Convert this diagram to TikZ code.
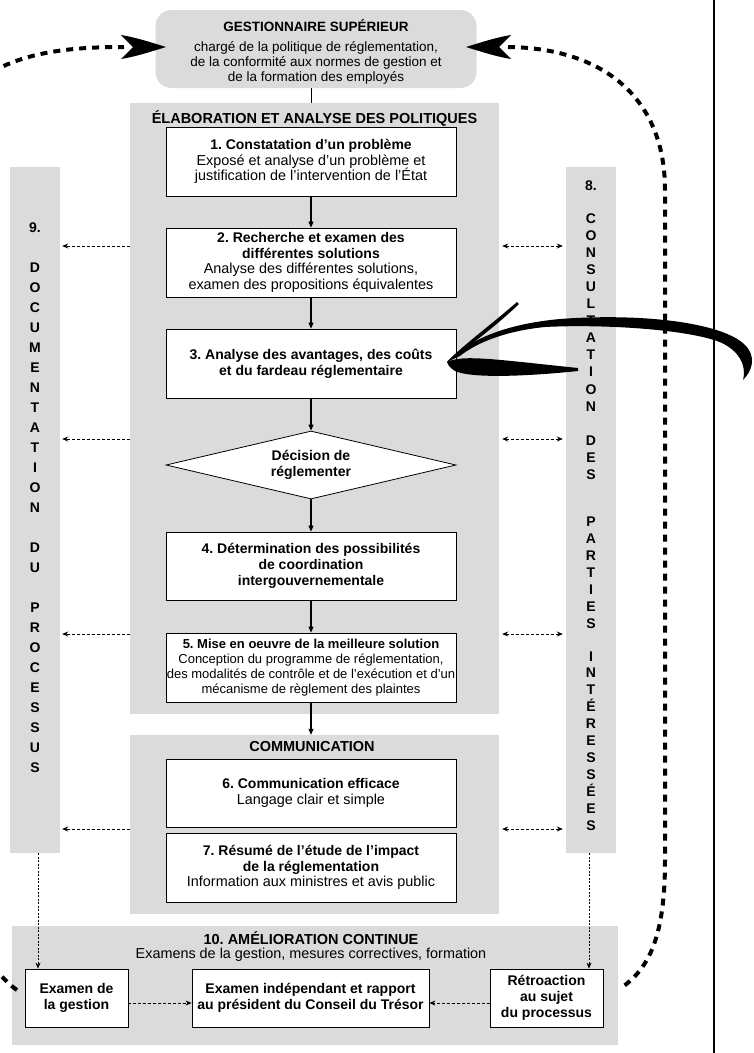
\documentclass[tikz,border=0pt]{standalone}
\usepackage{fontspec}
\setmainfont{Liberation Sans}
\usetikzlibrary{arrows.meta,shapes.geometric}
\definecolor{panelgray}{RGB}{219,219,219}
\frenchspacing

\newcommand{\diagtext}{\fontsize{14.4}{15.7}\selectfont}
\newcommand{\diagbold}{\fontsize{14}{15.7}\selectfont\bfseries}
\newcommand{\diaghead}{\fontsize{14.5}{15.7}\selectfont\bfseries}
\newcommand{\diagsmall}{\fontsize{13}{15}\selectfont}
\newcommand{\diagtop}{\fontsize{13.5}{14.8}\selectfont}
\newcommand{\hd}[1]{{\bfseries\fontsize{14}{15.7}\selectfont #1}}

\tikzset{
  panel/.style={fill=panelgray, draw=none, inner sep=0pt},
  stage/.style={draw=black, line width=0.8pt, fill=white, align=center, inner sep=0pt,
    font=\diagtext, minimum width=290pt},
  outcome/.style={draw=black, line width=0.8pt, fill=white, align=center, inner sep=0pt,
    font=\diagbold, minimum height=58pt},
  heading/.style={font=\diaghead, inner sep=0pt, align=center},
  colletter/.style={font=\diagbold, inner sep=0pt, text height=10pt, text depth=0pt},
  flow/.style={line width=1.1pt, arrows={-Triangle[length=6pt,width=5pt]}},
  doclink/.style={line width=0.8pt, dash pattern=on 3pt off 2pt,
    arrows={-Stealth[length=6pt,width=5pt]}},
  conslink/.style={line width=0.8pt, dash pattern=on 3pt off 2pt,
    arrows={Stealth[length=6pt,width=5pt]-Stealth[length=6pt,width=5pt]}},
  droplink/.style={line width=0.8pt, dash pattern=on 2pt off 1.5pt,
    arrows={-Stealth[length=6pt,width=5pt]}},
  heavy/.style={line width=4pt, dash pattern=on 7pt off 6pt},
}

\begin{document}
\begin{tikzpicture}[x=1pt,y=-1pt]
\useasboundingbox (0,0) rectangle (753,1053);

% rows used by the side links
\coordinate (r1) at (0,246);
\coordinate (r2) at (0,439);
\coordinate (r3) at (0,634);
\coordinate (r4) at (0,829);
\coordinate (r5) at (0,1003);

% background panels
\node[panel, minimum width=369pt, minimum height=611pt] (elab) at (314.5,408.5) {};
\node[panel, minimum width=369pt, minimum height=179pt] (comm) at (314.5,824.5) {};
\node[panel, minimum width=606pt, minimum height=119pt] (impr) at (315,985.5) {};
\node[panel, minimum width=50pt, minimum height=686pt] (doc) at (35,510) {};
\node[panel, minimum width=50pt, minimum height=686pt] (cons) at (591,510) {};

% senior manager
\node[fill=panelgray, rounded corners=16pt, minimum width=321pt, minimum height=78pt,
      inner sep=0pt] (top) at (316,49) {};
\node[inner sep=0pt, align=center, font=\diagtop] (toptext) at (316,52)
  {\textbf{GESTIONNAIRE SUPÉRIEUR}\\[5pt]
   chargé de la politique de réglementation,\\
   de la conformité aux normes de gestion et\\
   de la formation des employés};

% panel headings
\node[heading] (elabtitle) at (314.5,118) {ÉLABORATION ET ANALYSE DES POLITIQUES};
\node[heading] (commtitle) at (312,746) {COMMUNICATION};
\node[heading] (imprtitle) at (311,938) {10. AMÉLIORATION CONTINUE};
\node[inner sep=0pt, font=\diagtext] (imprsub) at (311,955)
  {Examens de la gestion, mesures correctives, formation};

% process stages
\node[stage, minimum height=69pt] (s1) at (311,161.5)
  {\hd{1. Constatation d’un problème}\\
   Exposé et analyse d’un problème et\\
   justification de l’intervention de l’État};
\node[stage, minimum height=69pt] (s2) at (311,262.5)
  {\hd{2. Recherche et examen des}\\
   \hd{différentes solutions}\\
   Analyse des différentes solutions,\\
   examen des propositions équivalentes};
\node[stage, minimum height=69pt, font=\diagbold] (s3) at (311,363.5)
  {3. Analyse des avantages, des coûts\\
   et du fardeau réglementaire};
\node[draw=black, line width=0.8pt, fill=white, diamond, shape aspect=4.2,
      minimum width=290pt, minimum height=68pt, inner sep=0pt,
      font=\diagbold, align=center] (dec) at (311,465)
  {Décision de\\réglementer};
\node[stage, minimum height=68pt, font=\diagbold] (s4) at (311,566)
  {4. Détermination des possibilités\\
   de coordination\\
   intergouvernementale};
\node[stage, minimum height=69pt, font=\diagsmall] (s5) at (311,667.5)
  {\textbf{5. Mise en oeuvre de la meilleure solution}\\
   Conception du programme de réglementation,\\
   des modalités de contrôle et de l’exécution et d’un\\
   mécanisme de règlement des plaintes};
\node[stage, minimum height=68pt] (s6) at (311,793)
  {\hd{6. Communication efficace}\\
   Langage clair et simple};
\node[stage, minimum height=69pt] (s7) at (311,867.5)
  {\hd{7. Résumé de l’étude de l’impact}\\
   \hd{de la réglementation}\\
   Information aux ministres et avis public};

% continuous improvement
\node[outcome, minimum width=103pt] (ex1) at (76.5,998) {Examen de\\la gestion};
\node[outcome, minimum width=237pt] (ex2) at (310.5,998)
  {Examen indépendant et rapport\\au président du Conseil du Trésor};
\node[outcome, minimum width=113pt] (ex3) at (546.5,998)
  {Rétroaction\\au sujet\\du processus};

% vertical lettering: documentation
\node[colletter] (dn) at (35,227) {9.};
\foreach \ch [count=\i] in {D,O,C,U,M,E,N,T,A,T,I,O,N}
  \node[colletter] (da\i) at (35,247+20*\i) {\ch};
\foreach \ch [count=\i] in {D,U}
  \node[colletter] (db\i) at (35,527+20*\i) {\ch};
\foreach \ch [count=\i] in {P,R,O,C,E,S,S,U,S}
  \node[colletter] (dc\i) at (35,587+20*\i) {\ch};

% vertical lettering: consultation
\node[colletter] (cn) at (591,185) {8.};
\foreach \ch [count=\i] in {C,O,N,S,U,L,T,A,T,I,O,N}
  \node[colletter] (ca\i) at (591,200.9+17.1*\i) {\ch};
\foreach \ch [count=\i] in {D,E,S}
  \node[colletter] (cb\i) at (591,422.9+17.1*\i) {\ch};
\foreach \ch [count=\i] in {P,A,R,T,I,E,S}
  \node[colletter] (cc\i) at (591,503.9+17.1*\i) {\ch};
\foreach \ch [count=\i] in {I,N,T,É,R,E,S,S,É,E,S}
  \node[colletter] (cd\i) at (591,639.1+16.9*\i) {\ch};

% main flow
\draw[line width=0.9pt] (top.south -| s1) -- (elab.north -| s1);
\draw[flow] (s1) -- (s2);
\draw[flow] (s2) -- (s3);
\draw[flow] (s3) -- (dec);
\draw[flow] (dec) -- (s4);
\draw[flow] (s4) -- (s5);
\draw[flow] (s5.south) -- (comm.north -| s5);

% documentation links
\draw[doclink] (elab.west |- r1) -- ([xshift=2pt]doc.east |- r1);
\draw[doclink] (elab.west |- r2) -- ([xshift=2pt]doc.east |- r2);
\draw[doclink] (elab.west |- r3) -- ([xshift=2pt]doc.east |- r3);
\draw[doclink] (comm.west |- r4) -- ([xshift=2pt]doc.east |- r4);

% consultation links
\draw[conslink] ([xshift=3pt]elab.east |- r1) -- ([xshift=-3pt]cons.west |- r1);
\draw[conslink] ([xshift=3pt]elab.east |- r2) -- ([xshift=-3pt]cons.west |- r2);
\draw[conslink] ([xshift=3pt]elab.east |- r3) -- ([xshift=-3pt]cons.west |- r3);
\draw[conslink] ([xshift=3pt]comm.east |- r4) -- ([xshift=-3pt]cons.west |- r4);

% feeds into continuous improvement
\draw[droplink] ([xshift=3pt]doc.south) -- ([xshift=3pt]doc.south |- ex1.north);
\draw[droplink] ([xshift=-2pt]cons.south) -- ([xshift=-2pt]cons.south |- ex3.north);
\draw[doclink] (ex1.east |- r5) -- (ex2.west |- r5);
\draw[doclink] (ex3.west |- r5) -- (ex2.east |- r5);

% right-hand rule
\draw[line width=2pt] (714,-2) -- (714,1055);

% heavy feedback loops to the senior manager
\coordinate (ltip) at (166,47);
\coordinate (rtip) at (466,47);
\begin{scope}
  \clip (0,0) rectangle (753,1053);
  \draw[heavy] (-8,72) .. controls (30,50) and (80,47) .. (124,47);
  \draw[heavy] (17,990) .. controls (8,984) and (0,975) .. (-10,962);
  \draw[heavy] (508,47) .. controls (600,48) and (665,95) .. (665,190)
    -- (665,860) .. controls (665,935) and (650,968) .. (621,988);
\end{scope}
\fill (ltip) .. controls (150,42) and (134,37) .. (121,35) -- (133,47)
  -- (121,59) .. controls (134,57) and (150,52) .. (ltip) -- cycle;
\fill (rtip) .. controls (482,42) and (498,37) .. (511,35) -- (499,47)
  -- (511,59) .. controls (498,57) and (482,52) .. (rtip) -- cycle;

% sweeping arrow over the cost analysis
\fill (447,362) .. controls (468,340) and (505,324) .. (560,319)
  .. controls (640,313) and (722,322) .. (745,345)
  .. controls (757,357) and (752,371) .. (743,380)
  .. controls (747,364) and (738,351) .. (722,343)
  .. controls (690,329) and (600,324) .. (545,327)
  .. controls (505,331) and (476,343) .. (460,356) -- cycle;
\fill (447,362) .. controls (462,354) and (500,360) .. (578,368)
  -- (578,371) .. controls (520,377) and (470,378) .. (455,371)
  .. controls (450,368) and (448,365) .. (447,362) -- cycle;
\fill (517,302) .. controls (492,324) and (462,346) .. (447,362)
  .. controls (468,347) and (496,326) .. (519,304) -- cycle;
\end{tikzpicture}
\end{document}
